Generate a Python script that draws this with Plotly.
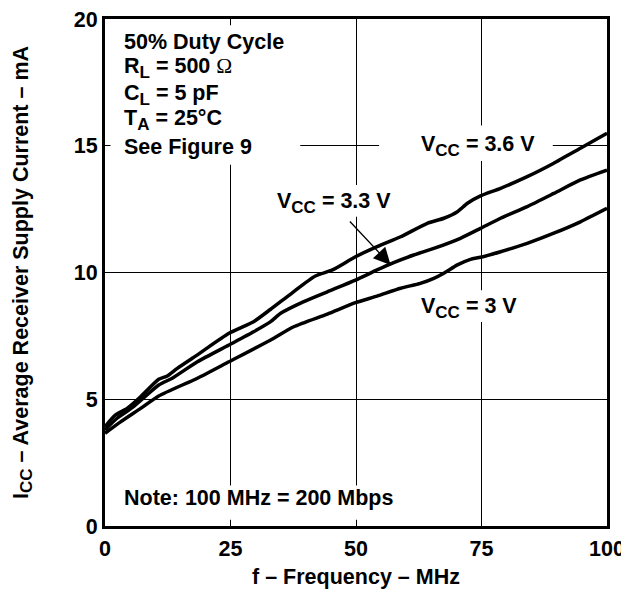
import plotly.graph_objects as go

# ---- data ----
freq_36 = [0, 2.1, 4.4, 7.1, 10.7, 12.4, 14.4, 18.4, 24.7, 29.6, 33.0, 37.3, 41.9, 45.3, 49.9,
           54.2, 58.9, 64.2, 67.5, 70.2, 72.2, 74.8, 78.8, 84.1, 89.4, 94.7, 100]
icc_36 = [3.92, 4.38, 4.64, 5.10, 5.79, 5.92, 6.22, 6.75, 7.60, 8.06, 8.55, 9.20, 9.86, 10.10, 10.62,
          11.02, 11.41, 11.94, 12.14, 12.40, 12.73, 13.02, 13.32, 13.78, 14.31, 14.90, 15.49]

freq_33 = [0, 2.4, 5.7, 10.7, 13.4, 18.4, 24.7, 29.6, 33.0, 35.0, 39.6, 44.3, 49.9, 54.2,
           57.5, 61.5, 65.5, 70.8, 74.8, 78.8, 84.1, 89.4, 94.7, 100]
icc_33 = [3.79, 4.25, 4.71, 5.56, 5.83, 6.48, 7.14, 7.66, 8.06, 8.39, 8.85, 9.24, 9.70, 10.10,
          10.39, 10.69, 10.95, 11.35, 11.74, 12.14, 12.60, 13.12, 13.65, 14.04]

freq_30 = [0, 3.1, 7.1, 10.7, 18.4, 24.7, 33.0, 37.6, 44.3, 49.9, 54.2, 58.9, 62.8, 65.5,
           67.5, 70.2, 72.8, 74.8, 78.8, 84.1, 89.4, 94.7, 100]
icc_30 = [3.66, 4.11, 4.64, 5.13, 5.83, 6.48, 7.34, 7.86, 8.36, 8.81, 9.07, 9.38, 9.57, 9.77,
          9.97, 10.30, 10.52, 10.60, 10.82, 11.15, 11.55, 12.00, 12.53]

x_ticks = [0, 25, 50, 75, 100]
y_ticks = [0, 5, 10, 15, 20]

FONT = "Liberation Sans, Arial, sans-serif"
FS = 21.5


def sub(s):
    return "<sub><span style='font-size:17px'>" + s + "</span></sub>"


OMEGA = "<span style='font-family:Liberation Serif;font-weight:normal'>Ω</span>"

fig = go.Figure()
for xs, ys in [(freq_36, icc_36), (freq_33, icc_33), (freq_30, icc_30)]:
    fig.add_trace(go.Scatter(x=xs, y=ys, mode="lines",
                             line=dict(color="black", width=3.5, shape="spline", smoothing=0.6),
                             showlegend=False, hoverinfo="skip"))

# white patches interrupting the grid behind the texts
patches = [(1.1, 38.9, 14.25, 19.75), (54.6, 89.2, 14.4, 15.8), (33.5, 58.0, 12.2, 13.45),
           (62.0, 83.0, 8.05, 9.3), (3.0, 58.0, 0.25, 1.6)]
for x0, x1, y0, y1 in patches:
    fig.add_shape(type="rect", x0=x0, x1=x1, y0=y0, y1=y1, xref="x", yref="y",
                  fillcolor="white", line=dict(width=0), layer="between")

anns = []
box_lines = ["50% Duty Cycle", "R" + sub("L") + " = 500 " + OMEGA, "C" + sub("L") + " = 5 pF",
             "T" + sub("A") + " = 25°C", "See Figure 9"]
box_y = [19.1, 18.05, 17.0, 16.0, 14.95]
for t, y in zip(box_lines, box_y):
    anns.append(dict(x=3.3, y=y, text=t, xanchor="left", yanchor="middle", showarrow=False))
anns.append(dict(x=3.3, y=1.1, text="Note: 100 MHz = 200 Mbps", xanchor="left",
                 yanchor="middle", showarrow=False))
anns.append(dict(x=62.6, y=15.0, text="V" + sub("CC") + " = 3.6 V", xanchor="left",
                 yanchor="middle", showarrow=False))
anns.append(dict(x=33.8, y=12.75, text="V" + sub("CC") + " = 3.3 V", xanchor="left",
                 yanchor="middle", showarrow=False))
anns.append(dict(x=62.6, y=8.6, text="V" + sub("CC") + " = 3 V", xanchor="left",
                 yanchor="middle", showarrow=False))
anns.append(dict(x=56.9, y=10.3, ax=48.5, ay=12.07, axref="x", ayref="y", text="",
                 showarrow=True, arrowhead=2, arrowsize=2.6, arrowwidth=1.3, arrowcolor="black"))

fig.update_layout(
    width=629, height=590,
    margin=dict(l=97, r=30, t=11, b=72, autoexpand=False),
    paper_bgcolor="white", plot_bgcolor="white",
    font=dict(family=FONT, size=FS, color="black", weight="bold"),
    annotations=anns,
    xaxis=dict(range=[0, 100], tickvals=x_ticks, ticktext=[str(v) for v in x_ticks],
               showgrid=True, gridcolor="black", gridwidth=1.2, zeroline=False,
               showline=True, linecolor="black", linewidth=3, mirror=True, ticks="",
               ticklabelstandoff=1, automargin=False, ticklabeloverflow="allow",
               title=dict(text="f – Frequency – MHz", standoff=10,
                          font=dict(size=FS, weight="bold"))),
    yaxis=dict(range=[0, 20], tickvals=y_ticks, ticktext=[str(v) for v in y_ticks],
               showgrid=True, gridcolor="black", gridwidth=1.2, zeroline=False,
               showline=True, linecolor="black", linewidth=3, mirror=True, ticks="",
               ticklabelstandoff=0, automargin=False, ticklabeloverflow="allow",
               title=dict(text="I" + sub("CC") + " – Average Receiver Supply Current – mA",
                          standoff=40, font=dict(size=FS, weight="bold"))),
)

fig.write_html("out.html")
